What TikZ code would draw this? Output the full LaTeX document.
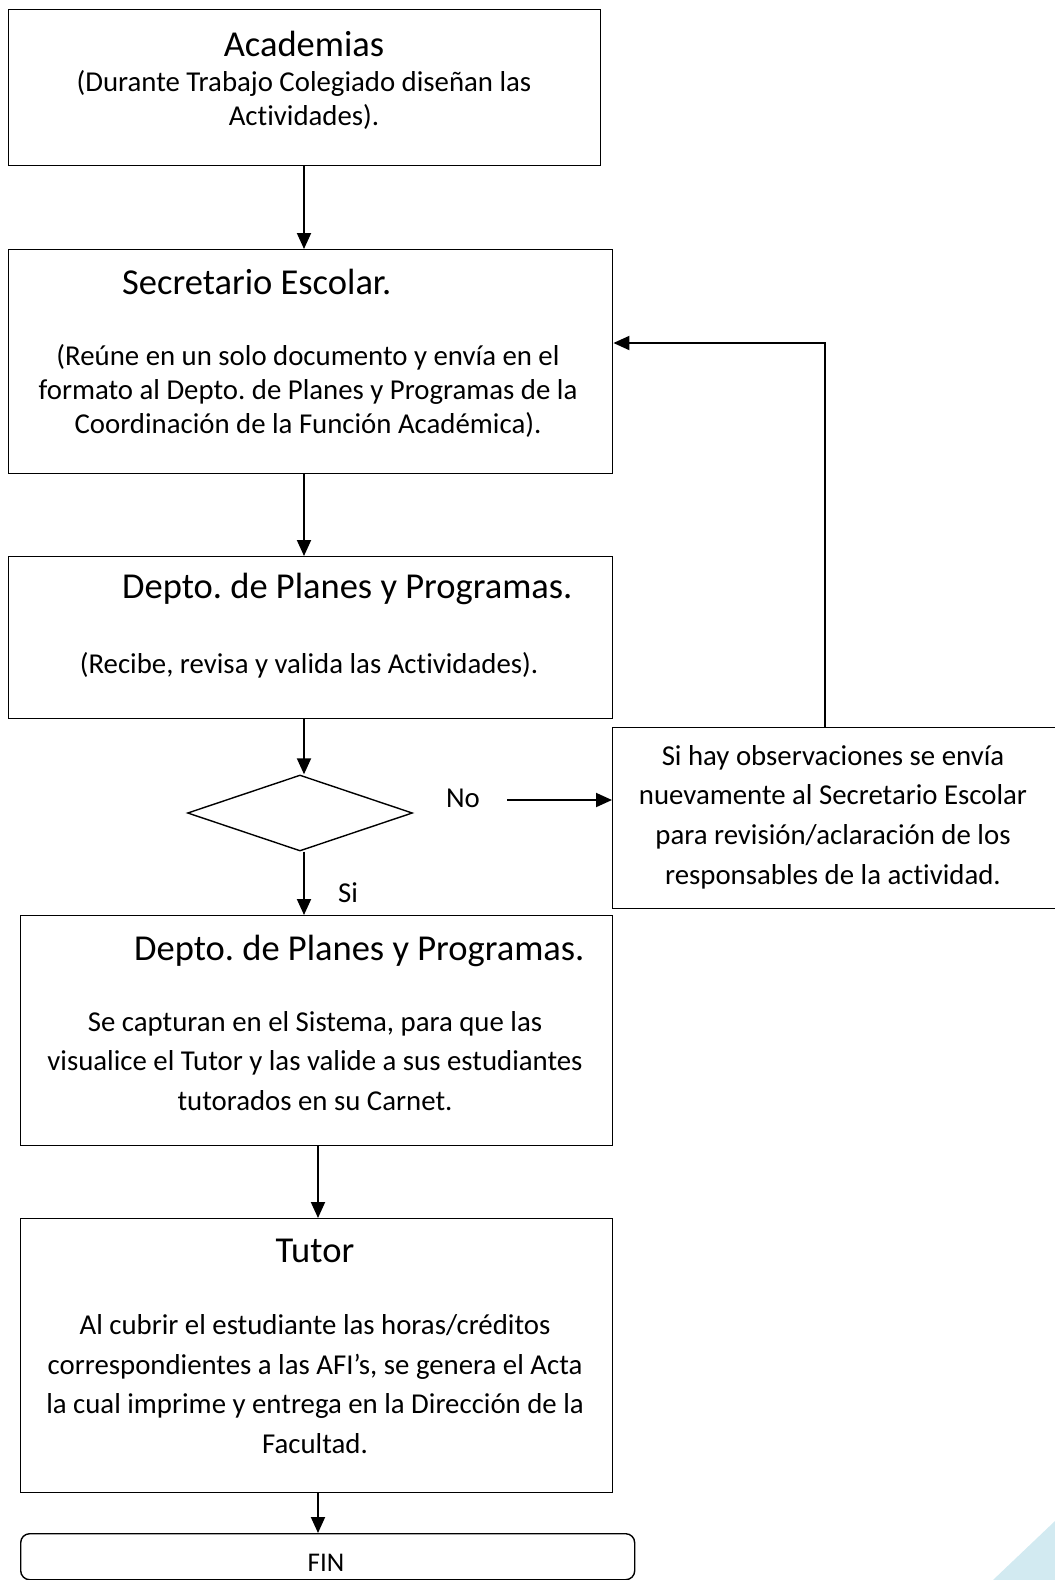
\documentclass[tikz,border=0pt]{standalone}
\usepackage{fontspec}
\setmainfont{Carlito}[Ligatures={NoCommon}]
\usetikzlibrary{shapes.geometric,arrows.meta}
\definecolor{triblue}{HTML}{D2EAF1}
\frenchspacing
\begin{document}
\begin{tikzpicture}[x=1pt,y=-1pt,
  box/.style={draw,line width=1.4pt,rectangle,inner sep=0pt,anchor=north west},
  ttl/.style={font=\fontsize{36.5}{42}\selectfont,inner sep=0pt},
  bodyA/.style={font=\fontsize{28.8}{34}\selectfont,align=center,inner sep=0pt},
  bodyB/.style={font=\fontsize{28.8}{39.7}\selectfont,align=center,inner sep=0pt},
  arr/.style={line width=1.9pt,-{Triangle[length=16pt,width=14pt]}}]
\useasboundingbox (0,0) rectangle (1055,1580);
\fill[triblue] (1055,1521) -- (993,1580) -- (1055,1580) -- cycle;
% boxes
\node[box,minimum width=592pt,minimum height=156pt] (b1) at (8,9) {};
\node[box,minimum width=604pt,minimum height=224pt] (b2) at (8,249) {};
\node[box,minimum width=604pt,minimum height=162pt] (b3) at (8,556) {};
\node[box,minimum width=446pt,minimum height=181pt] (side) at (612,727) {};
\node[box,minimum width=592pt,minimum height=230pt] (b4) at (20,915) {};
\node[box,minimum width=592pt,minimum height=274pt] (b5) at (20,1218) {};
\node[box,minimum width=614pt,minimum height=46pt,rounded corners=9pt] (fin) at (20,1533) {};
\node[draw,line width=1.4pt,diamond,minimum width=225pt,minimum height=76pt,inner sep=0pt] (dec) at (300,813) {};
% texts
\node[ttl] (t1) at (304,44) {Academias};
\node[bodyA] (x1) at (304,100) {(Durante Trabajo Colegiado diseñan las\\Actividades).};
\node[ttl,anchor=west] (t2) at (122,282) {Secretario Escolar.};
\node[bodyA] (x2) at (308,391) {(Reúne en un solo documento y envía en el\\formato al Depto. de Planes y Programas de la\\Coordinación de la Función Académica).};
\node[ttl,anchor=west] (t3) at (122,589) {Depto. de Planes y Programas.};
\node[bodyA] (x3) at (309,665) {(Recibe, revisa y valida las Actividades).};
\node[bodyB] (xs) at (833,817) {Si hay observaciones se envía\\nuevamente al Secretario Escolar\\para revisión/aclaración de los\\responsables de la actividad.};
\node[bodyA] (no) at (463,798) {No};
\node[bodyA] (si) at (348,893) {Si};
\node[ttl,anchor=west] (t4) at (134,951) {Depto. de Planes y Programas.};
\node[bodyB] (x4) at (315,1061) {Se capturan en el Sistema, para que las\\visualice el Tutor y las valide a sus estudiantes\\tutorados en su Carnet.};
\node[ttl] (t5) at (315,1251) {Tutor};
\node[bodyB] (x5) at (315,1384) {Al cubrir el estudiante las horas/créditos\\correspondientes a las AFI’s, se genera el Acta\\la cual imprime y entrega en la Dirección de la\\Facultad.};
\node[font=\fontsize{27}{32}\selectfont,inner sep=0pt] (tf) at (326,1563) {FIN};
% connectors
\coordinate (c1) at (304,0);
\coordinate (c2) at (318,0);
\coordinate (nos) at (507,800);
\coordinate (fb) at (825,343);
\draw[arr] (c1 |- b1.south) -- (c1 |- b2.north);
\draw[arr] (c1 |- b2.south) -- (c1 |- b3.north);
\draw[arr] (c1 |- b3.south) -- (c1 |- dec.north);
\draw[arr] (c1 |- dec.south) -- (c1 |- b4.north);
\draw[arr] (nos) -- (side.west |- nos);
\draw[arr] (fb |- side.north) -- (fb) -- (b2.east |- fb);
\draw[arr] (c2 |- b4.south) -- (c2 |- b5.north);
\draw[arr] (c2 |- b5.south) -- (c2 |- fin.north);
\end{tikzpicture}
\end{document}
